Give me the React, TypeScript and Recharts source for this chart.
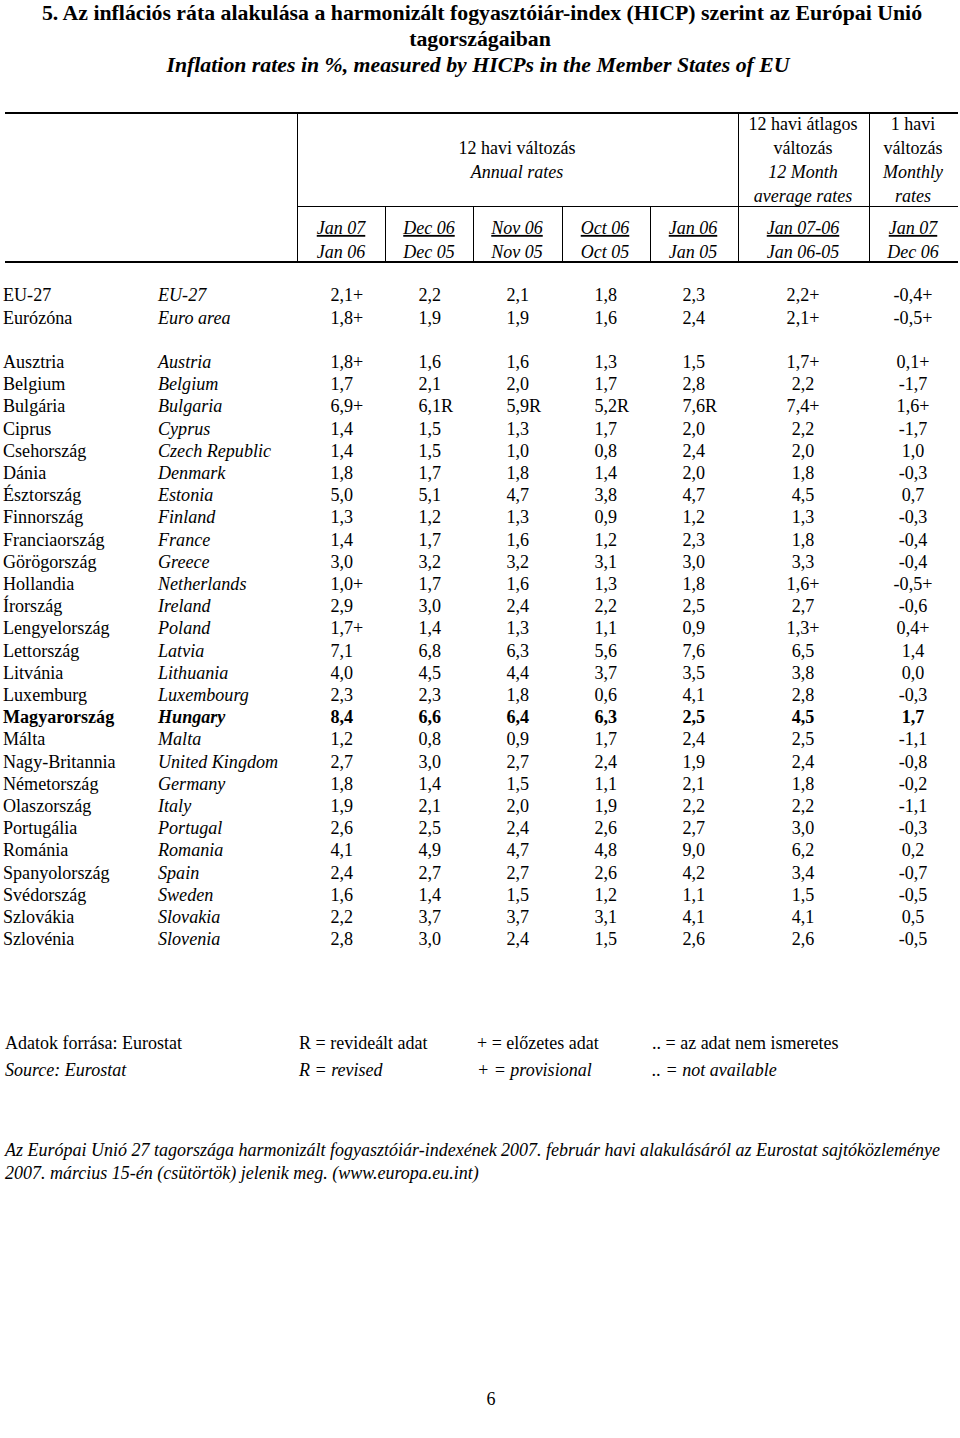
import { ScatterChart, Scatter, XAxis, YAxis } from 'recharts'

const FONT = '"Liberation Serif", "Times New Roman", serif'
const BODY_SIZE = 18.1
const HEAD_SIZE = 18

const hungarianNames = [
  'EU-27', 'Eurózóna', 'Ausztria', 'Belgium', 'Bulgária', 'Ciprus', 'Csehország', 'Dánia',
  'Észtország', 'Finnország', 'Franciaország', 'Görögország', 'Hollandia', 'Írország',
  'Lengyelország', 'Lettország', 'Litvánia', 'Luxemburg', 'Magyarország', 'Málta',
  'Nagy-Britannia', 'Németország', 'Olaszország', 'Portugália', 'Románia', 'Spanyolország',
  'Svédország', 'Szlovákia', 'Szlovénia'
]
const englishNames = [
  'EU-27', 'Euro area', 'Austria', 'Belgium', 'Bulgaria', 'Cyprus', 'Czech Republic', 'Denmark',
  'Estonia', 'Finland', 'France', 'Greece', 'Netherlands', 'Ireland', 'Poland', 'Latvia',
  'Lithuania', 'Luxembourg', 'Hungary', 'Malta', 'United Kingdom', 'Germany', 'Italy',
  'Portugal', 'Romania', 'Spain', 'Sweden', 'Slovakia', 'Slovenia'
]

const jan07 = [2.1, 1.8, 1.8, 1.7, 6.9, 1.4, 1.4, 1.8, 5.0, 1.3, 1.4, 3.0, 1.0, 2.9, 1.7, 7.1, 4.0, 2.3, 8.4, 1.2, 2.7, 1.8, 1.9, 2.6, 4.1, 2.4, 1.6, 2.2, 2.8]
const dec06 = [2.2, 1.9, 1.6, 2.1, 6.1, 1.5, 1.5, 1.7, 5.1, 1.2, 1.7, 3.2, 1.7, 3.0, 1.4, 6.8, 4.5, 2.3, 6.6, 0.8, 3.0, 1.4, 2.1, 2.5, 4.9, 2.7, 1.4, 3.7, 3.0]
const nov06 = [2.1, 1.9, 1.6, 2.0, 5.9, 1.3, 1.0, 1.8, 4.7, 1.3, 1.6, 3.2, 1.6, 2.4, 1.3, 6.3, 4.4, 1.8, 6.4, 0.9, 2.7, 1.5, 2.0, 2.4, 4.7, 2.7, 1.5, 3.7, 2.4]
const oct06 = [1.8, 1.6, 1.3, 1.7, 5.2, 1.7, 0.8, 1.4, 3.8, 0.9, 1.2, 3.1, 1.3, 2.2, 1.1, 5.6, 3.7, 0.6, 6.3, 1.7, 2.4, 1.1, 1.9, 2.6, 4.8, 2.6, 1.2, 3.1, 1.5]
const jan06 = [2.3, 2.4, 1.5, 2.8, 7.6, 2.0, 2.4, 2.0, 4.7, 1.2, 2.3, 3.0, 1.8, 2.5, 0.9, 7.6, 3.5, 4.1, 2.5, 2.4, 1.9, 2.1, 2.2, 2.7, 9.0, 4.2, 1.1, 4.1, 2.6]
const avg12 = [2.2, 2.1, 1.7, 2.2, 7.4, 2.2, 2.0, 1.8, 4.5, 1.3, 1.8, 3.3, 1.6, 2.7, 1.3, 6.5, 3.8, 2.8, 4.5, 2.5, 2.4, 1.8, 2.2, 3.0, 6.2, 3.4, 1.5, 4.1, 2.6]
const monthly = [-0.4, -0.5, 0.1, -1.7, 1.6, -1.7, 1.0, -0.3, 0.7, -0.3, -0.4, -0.4, -0.5, -0.6, 0.4, 1.4, 0.0, -0.3, 1.7, -1.1, -0.8, -0.2, -1.1, -0.3, 0.2, -0.7, -0.5, 0.5, -0.5]

// + = provisional, R = revised
const provisional = ['EU-27', 'Euro area', 'Austria', 'Bulgaria', 'Netherlands', 'Poland']
const revised = ['Bulgaria']
const highlighted = 'Hungary'

const columns = [
  { values: jan07, flag: '+', flagged: provisional, top: 'Jan 07', bottom: 'Jan 06', span: 2, align: 'start' },
  { values: dec06, flag: 'R', flagged: revised, top: 'Dec 06', bottom: 'Dec 05', span: 2, align: 'start' },
  { values: nov06, flag: 'R', flagged: revised, top: 'Nov 06', bottom: 'Nov 05', span: 2, align: 'start' },
  { values: oct06, flag: 'R', flagged: revised, top: 'Oct 06', bottom: 'Oct 05', span: 2, align: 'start' },
  { values: jan06, flag: 'R', flagged: revised, top: 'Jan 06', bottom: 'Jan 05', span: 2, align: 'start' },
  { values: avg12, flag: '+', flagged: provisional, top: 'Jan 07-06', bottom: 'Jan 06-05', span: 3, align: 'middle' },
  { values: monthly, flag: '+', flagged: provisional, top: 'Jan 07', bottom: 'Dec 06', span: 2, align: 'middle' }
]

// column centres in "span units" along the x axis
const edges = columns.reduce((acc: number[], c) => [...acc, acc[acc.length - 1] + c.span], [0])
const centers = columns.map((_, i) => (edges[i] + edges[i + 1]) / 2)
const totalSpan = edges[edges.length - 1]

// group headings; each one is centred over the columns from..to
const groups = [
  { from: 0, to: 5, lines: [['12 havi változás', false], ['Annual rates', true]], first: 1 },
  { from: 5, to: 6, lines: [['12 havi átlagos', false], ['változás', false], ['12 Month', true], ['average rates', true]], first: 0 },
  { from: 6, to: 7, lines: [['1 havi', false], ['változás', false], ['Monthly', true], ['rates', true]], first: 0 }
]
const groupCenters = groups.map(g => (edges[g.from] + edges[g.to]) / 2)

const rowPos = (i: number) => (i < 2 ? i : i + 1)
const rowTicks = hungarianNames.map((_, i) => rowPos(i))

const fmt = (v: number) => v.toFixed(1).replace('.', ',')

const seriesData = columns.map((c, ci) =>
  c.values.map((v, i) => ({
    x: centers[ci],
    y: rowPos(i),
    label: fmt(v) + (c.flagged.includes(englishNames[i]) ? c.flag : ''),
    align: c.align,
    bold: englishNames[i] === highlighted
  }))
)

const CellText = (props: any) => {
  const { cx, cy, payload } = props
  return (
    <text
      x={payload.align === 'start' ? cx - 10.5 : cx}
      y={cy}
      dy="0.33em"
      textAnchor={payload.align}
      fontFamily={FONT}
      fontSize={BODY_SIZE}
      fontWeight={payload.bold ? 700 : 400}
      fill="#000"
    >
      {payload.label}
    </text>
  )
}

const RowTick = (props: any) => {
  const { x, y, payload } = props
  const v = payload.value
  const i = v < 2 ? v : v - 1
  const bold = englishNames[i] === highlighted
  return (
    <g>
      <text x={x - 292} y={y} dy="0.33em" fontFamily={FONT} fontSize={BODY_SIZE} fontWeight={bold ? 700 : 400} fill="#000">
        {hungarianNames[i]}
      </text>
      <text x={x - 137} y={y} dy="0.33em" fontFamily={FONT} fontSize={BODY_SIZE} fontStyle="italic" fontWeight={bold ? 700 : 400} fill="#000">
        {englishNames[i]}
      </text>
    </g>
  )
}

// header rows sit above the plot area
const HEAD_ROW1 = 228
const HEAD_ROW2 = 252
const GROUP_TOP = 124
const GROUP_STEP = 24

const ColumnTick = (props: any) => {
  const { x, payload } = props
  const col = columns[centers.indexOf(payload.value)]
  if (!col) return null
  const gx = x
  const g = groups[groupCenters.indexOf(payload.value)]
  return (
    <g fontFamily={FONT} fontSize={HEAD_SIZE} fill="#000">
      <text x={x} y={HEAD_ROW1} dy="0.33em" textAnchor="middle" fontStyle="italic" style={{ textDecoration: 'underline' }}>{col.top}</text>
      <text x={x} y={HEAD_ROW2} dy="0.33em" textAnchor="middle" fontStyle="italic">{col.bottom}</text>
      {g && g.lines.map(([t, it], k) => (
        <text key={k} x={gx} y={GROUP_TOP + (g.first + k) * GROUP_STEP} dy="0.33em" textAnchor="middle" fontStyle={it ? 'italic' : 'normal'}>
          {t as string}
        </text>
      ))}
    </g>
  )
}

const line = (key: string, left: number, top: number, width: number, height: number) => (
  <div key={key} style={{ position: 'absolute', left, top, width, height, background: '#000' }} />
)

const textStyle = (top: number, size: number, extra: any = {}) => ({
  position: 'absolute' as const,
  top: top - 12,
  lineHeight: '24px',
  fontFamily: FONT,
  fontSize: size,
  whiteSpace: 'nowrap' as const,
  color: '#000',
  ...extra
})

export default function App() {
  return (
    <div style={{ position: 'relative', width: 960, height: 1438, background: '#fff', overflow: 'hidden' }}>
      <style>{'body{margin:0}'}</style>

      <div style={textStyle(13, 21.8, { left: 0, width: 964, textAlign: 'center', fontWeight: 700 })}>
        5. Az inflációs ráta alakulása a harmonizált fogyasztóiár-index (HICP) szerint az Európai Unió
      </div>
      <div style={textStyle(39, 21.8, { left: 0, width: 960, textAlign: 'center', fontWeight: 700 })}>
        tagországaiban
      </div>
      <div style={textStyle(65, 21.8, { left: 0, width: 956, textAlign: 'center', fontWeight: 700, fontStyle: 'italic' })}>
        Inflation rates in %, measured by HICPs in the Member States of EU
      </div>

      {line('t', 5, 112, 953, 1.5)}
      {line('m', 297, 205.5, 661, 1.5)}
      {line('b', 5, 261, 953, 1.5)}
      {line('v0', 296.5, 112, 1, 150)}
      {line('v5', 737.5, 112, 1, 150)}
      {line('v6', 868.5, 112, 1, 150)}
      {line('v1', 385, 206, 1, 56)}
      {line('v2', 473, 206, 1, 56)}
      {line('v3', 562, 206, 1, 56)}
      {line('v4', 650, 206, 1, 56)}

      <div style={{ position: 'absolute', left: 0, top: 0 }}>
        <ScatterChart width={960} height={1438} margin={{ top: 283.4, right: 3, bottom: 487.6, left: 5 }}>
          <XAxis
            type="number"
            dataKey="x"
            domain={[0, totalSpan]}
            orientation="top"
            ticks={centers}
            interval={0}
            height={1}
            axisLine={false}
            tickLine={false}
            tickSize={0}
            tick={<ColumnTick />}
          />
          <YAxis
            type="number"
            dataKey="y"
            domain={[-0.5, 29.5]}
            reversed
            ticks={rowTicks}
            interval={0}
            width={292}
            axisLine={false}
            tickLine={false}
            tickSize={0}
            tick={<RowTick />}
          />
          {seriesData.map((d, i) => (
            <Scatter key={i} data={d} shape={<CellText />} isAnimationActive={false} />
          ))}
        </ScatterChart>
      </div>

      <div style={textStyle(1043, 18, { left: 5 })}>Adatok forrása: Eurostat</div>
      <div style={textStyle(1043, 18, { left: 299 })}>R = revideált adat</div>
      <div style={textStyle(1043, 18, { left: 477 })}>+ = előzetes adat</div>
      <div style={textStyle(1043, 18, { left: 652 })}>.. = az adat nem ismeretes</div>
      <div style={textStyle(1070, 18, { left: 5, fontStyle: 'italic' })}>Source: Eurostat</div>
      <div style={textStyle(1070, 18, { left: 299, fontStyle: 'italic' })}>R = revised</div>
      <div style={textStyle(1070, 18, { left: 477, fontStyle: 'italic' })}>+ = provisional</div>
      <div style={textStyle(1070, 18, { left: 652, fontStyle: 'italic' })}>.. = not available</div>

      <div style={textStyle(1150, 18, { left: 5, fontStyle: 'italic' })}>
        Az Európai Unió 27 tagországa harmonizált fogyasztóiár-indexének 2007. február havi alakulásáról az Eurostat sajtóközleménye
      </div>
      <div style={textStyle(1173, 18, { left: 5, fontStyle: 'italic' })}>
        2007. március 15-én (csütörtök) jelenik meg. (www.europa.eu.int)
      </div>

      <div style={textStyle(1399, 18, { left: 0, width: 982, textAlign: 'center' })}>6</div>
    </div>
  )
}
